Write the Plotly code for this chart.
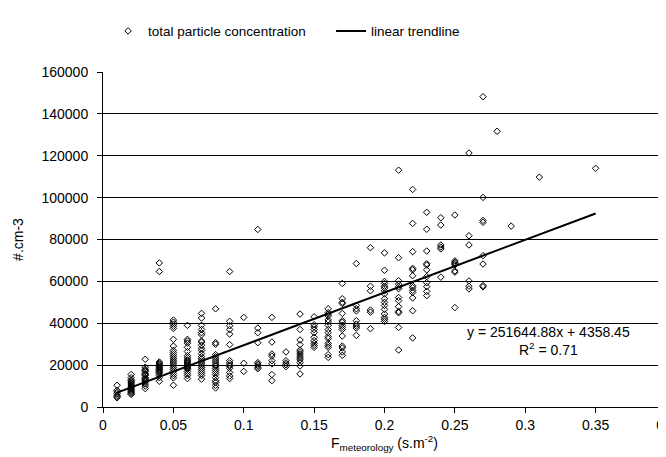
import plotly.graph_objects as go

# ---- data ----
f_columns = [0.01, 0.02, 0.03, 0.04, 0.05, 0.06, 0.07, 0.08, 0.09, 0.10,
             0.11, 0.12, 0.13, 0.14, 0.15, 0.16, 0.17, 0.18, 0.19, 0.20,
             0.21, 0.22, 0.23, 0.24, 0.25, 0.26, 0.27, 0.28, 0.29, 0.31, 0.35]

conc_001 = [10400, 8000, 7200, 6400, 5600, 5000, 4400]
conc_002 = [15500, 14000, 13000, 12500, 12000, 11500, 11000, 10500, 10000, 9500,
            9000, 8500, 8000, 7500, 7000, 6500, 6000]
conc_003 = [22800, 19000, 18000, 17500, 17000, 16000, 15500, 15000, 14000, 13500,
            13000, 12500, 12000, 11000, 10000, 8800]
conc_004 = [68800, 64700, 21500, 21000, 20500, 20000, 19500, 19000, 18500, 18000,
            17500, 17000, 16500, 16000, 15000, 14000, 12300]
conc_005 = [41500, 40500, 39500, 38500, 37500, 32300, 29100, 27000, 26000, 25000,
            24000, 23000, 22000, 21000, 20000, 19000, 18000, 17000, 16000, 15000,
            13900, 10400]
conc_006 = [39000, 32300, 31500, 30500, 28500, 26500, 24500, 23500, 22500, 22000,
            21500, 21000, 20500, 20000, 19500, 19000, 18500, 18000, 17000, 16000,
            15000, 13600]
conc_007 = [44700, 42500, 39000, 37000, 35500, 34500, 31500, 31000, 29500, 28000,
            27000, 25500, 24000, 23000, 22000, 21000, 20000, 19000, 18000, 17000,
            16000, 15000, 13300]
conc_008 = [46900, 30700, 30000, 25000, 24000, 23000, 22000, 21000, 20000, 19500,
            18500, 17500, 16500, 15500, 14000, 12500, 11700, 10400, 9100]
conc_009 = [64700, 40900, 38800, 37000, 34800, 29800, 22100, 21000, 20000, 19500,
            18500, 16500, 14800, 13600]
conc_010 = [42800, 20900, 17000]
conc_011 = [84800, 37700, 35500, 30700, 21200, 20500, 19800, 19000, 18300]
conc_012 = [42800, 31000, 25300, 24300, 22100, 20600, 15500, 12600]
conc_013 = [26300, 22100, 21000, 20200, 19300]
conc_014 = [44400, 37000, 32000, 29800, 27200, 26300, 25300, 24300, 23400, 22500,
            21200, 19600, 15800]
conc_015 = [43100, 39300, 38300, 37000, 35500, 33300, 31700, 30400, 29400, 28500]
conc_016 = [46900, 45100, 44400, 43500, 41600, 40600, 39000, 37000, 35500, 33600,
            32700, 30400, 29400, 28500, 25000, 23700]
conc_017 = [59000, 51700, 50000, 49400, 44700, 41200, 40500, 39000, 38000, 37000,
            33900, 29100, 28200, 26300, 24700]
conc_018 = [68500, 48500, 46900, 45900, 41200, 39600, 38600, 37700, 34200]
conc_019 = [76100, 57700, 55500, 46300, 45300, 37400]
conc_020 = [73600, 65300, 60000, 59000, 57700, 56800, 55500, 54000, 51700, 50000,
            48500, 46600, 44400, 42800, 41900, 40900]
conc_021 = [113100, 71300, 60300, 58700, 57400, 56500, 52300, 50800, 47900, 45600,
            45000, 38000, 27200]
conc_022 = [103900, 87700, 74200, 66200, 65500, 62700, 57900, 57000, 55700, 54700,
            52100, 46000, 33000]
conc_023 = [93000, 84900, 74500, 68400, 67800, 65500, 62300, 59400, 57500, 55200,
            53200]
conc_024 = [90400, 86900, 77400, 76400, 75500, 62000]
conc_025 = [91700, 69800, 69100, 68500, 67900, 65000, 64400, 47500]
conc_026 = [121300, 81800, 77400, 60200, 57700, 56400]
conc_027 = [148200, 100100, 89100, 88200, 72300, 68300, 58000, 57400]
conc_028 = [131700]
conc_029 = [86400]
conc_031 = [109800]
conc_035 = [114000]

conc_groups = [conc_001, conc_002, conc_003, conc_004, conc_005, conc_006, conc_007,
               conc_008, conc_009, conc_010, conc_011, conc_012, conc_013, conc_014,
               conc_015, conc_016, conc_017, conc_018, conc_019, conc_020, conc_021,
               conc_022, conc_023, conc_024, conc_025, conc_026, conc_027, conc_028,
               conc_029, conc_031, conc_035]

trend_slope = 251644.88
trend_intercept = 4358.45
trend_x = [0.01, 0.35]

x_tickvals = [0, 0.05, 0.1, 0.15, 0.2, 0.25, 0.3, 0.35, 0.4]
x_ticktext = ["0", "0.05", "0.1", "0.15", "0.2", "0.25", "0.3", "0.35", "0.4"]
y_tickvals = [0, 20000, 40000, 60000, 80000, 100000, 120000, 140000, 160000]
y_ticktext = ["0", "20000", "40000", "60000", "80000", "100000", "120000", "140000", "160000"]

# ---- build traces ----
xs, ys = [], []
for fx, grp in zip(f_columns, conc_groups):
    for v in grp:
        xs.append(fx)
        ys.append(v)

trend_y = [trend_slope * v + trend_intercept for v in trend_x]

FONT = "Liberation Sans, Arial, sans-serif"

fig = go.Figure()
fig.add_trace(go.Scatter(
    x=xs, y=ys, mode="markers", name="total particle concentration",
    marker=dict(symbol="diamond-open", size=5, color="black", line=dict(width=1, color="black")),
    cliponaxis=False,
))
fig.add_trace(go.Scatter(
    x=trend_x, y=trend_y, mode="lines", name="linear trendline",
    line=dict(color="black", width=2),
))

fig.add_annotation(
    x=0.3165, y=31300, xref="x", yref="y",
    text="y = 251644.88x + 4358.45<br>R<sup>2</sup> = 0.71",
    showarrow=False, align="center", font=dict(family=FONT, size=14, color="black"),
)

fig.add_shape(type="line", xref="paper", yref="paper", x0=1, x1=1, y0=0, y1=1,
              line=dict(color="#a0a0a0", width=1))

fig.update_layout(
    width=666, height=457,
    margin=dict(l=95, r=8, t=62, b=58),
    paper_bgcolor="white", plot_bgcolor="white",
    font=dict(family=FONT, size=14, color="black"),
    showlegend=True,
    legend=dict(orientation="h", x=0.009, xanchor="left", y=1.122, yanchor="middle",
                font=dict(family=FONT, size=13.5, color="black"),
                entrywidth=178, entrywidthmode="pixels",
                bgcolor="rgba(0,0,0,0)"),
    xaxis=dict(range=[0, 0.4], tickvals=x_tickvals, ticktext=x_ticktext,
               showgrid=False, zeroline=False, showline=True, linecolor="black", linewidth=1,
               ticks="outside", ticklen=5, tickcolor="black", automargin=False,
               ticklabeloverflow="allow",
               title=dict(text="F<sub>meteorology</sub> (s.m<sup>-2</sup>)",
                          font=dict(family=FONT, size=14), standoff=2)),
    yaxis=dict(range=[0, 160000], tickvals=y_tickvals, ticktext=y_ticktext,
               showgrid=True, gridcolor="black", gridwidth=1,
               zeroline=False, showline=True, linecolor="black", linewidth=1,
               ticks="outside", ticklen=5, tickcolor="black", automargin=False,
               ticklabelstandoff=6,
               title=dict(text="#.cm-3", font=dict(family=FONT, size=14), standoff=14)),
)

fig.write_html("out.html")
